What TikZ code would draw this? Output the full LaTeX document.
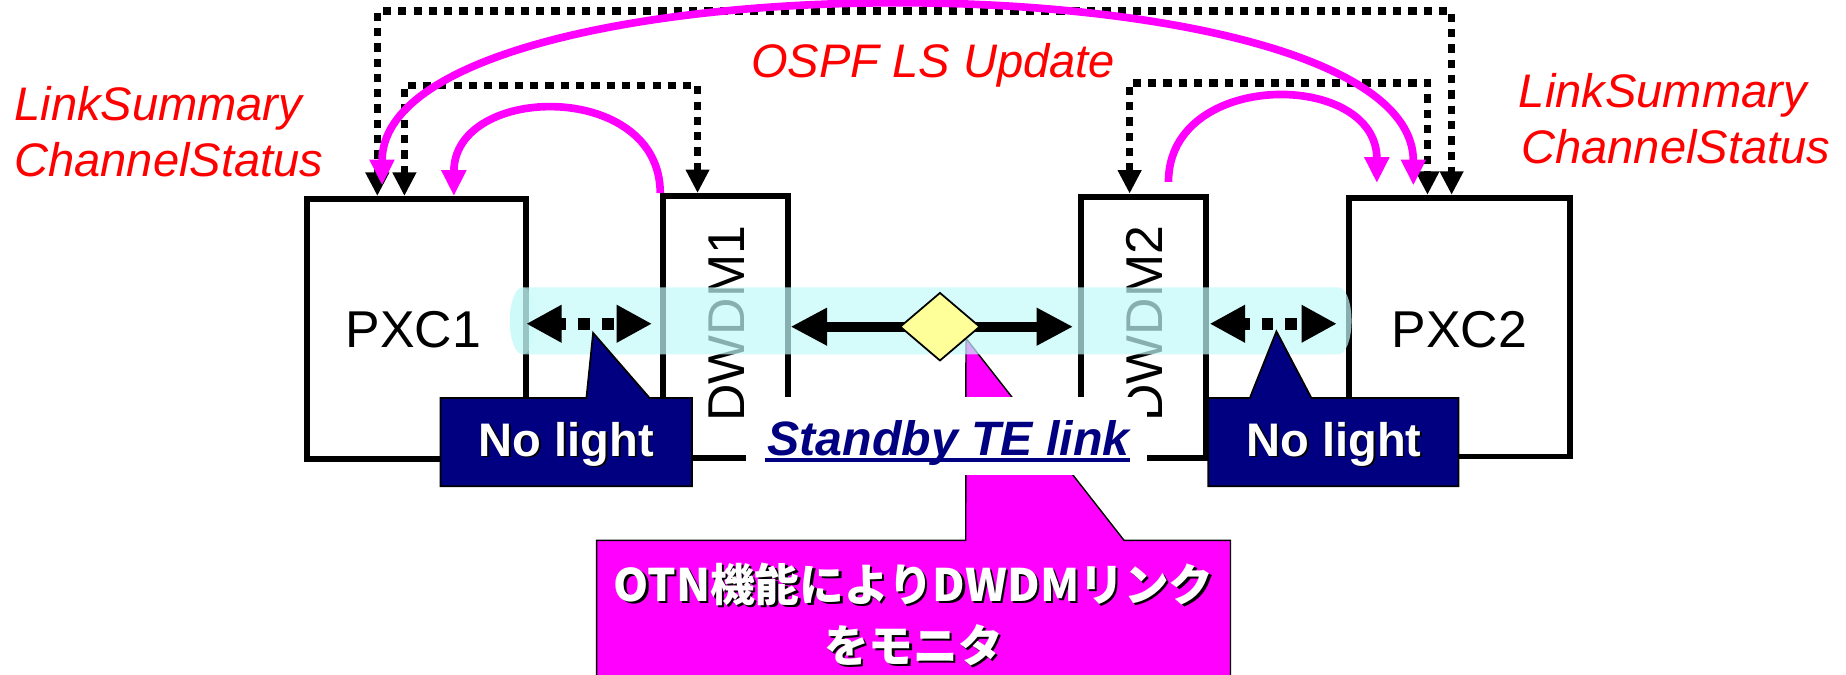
\documentclass[tikz,border=0pt]{standalone}
\usepackage{fontspec}
\setmainfont{Liberation Sans}
\newfontfamily\jpfont{Noto Sans CJK JP}
\usetikzlibrary{arrows.meta,calc,shapes.geometric}

\definecolor{mag}{RGB}{255,0,255}
\definecolor{navyblue}{RGB}{0,0,128}
\definecolor{lsred}{RGB}{255,0,0}
\definecolor{diafill}{RGB}{255,255,153}
\definecolor{tubecol}{RGB}{195,250,250}

\begin{document}
\begin{tikzpicture}[x=1pt,y=1pt,
  box/.style={draw=black, line width=5pt, fill=white, inner sep=0pt},
  boxlabel/.style={font=\fontsize{44}{52}\selectfont, inner sep=0pt},
  ctrl/.style={draw=black, line width=6.5pt, dash pattern=on 7pt off 6pt,
    >={Triangle[length=20pt,width=19pt]}, <->},
  flow/.style={draw=mag, line width=6.5pt, >={Triangle[length=22pt,width=20pt]}},
  dotlink/.style={draw=black, line width=10pt, dash pattern=on 10pt off 10pt, dash phase=4pt,
    >={Triangle[length=30pt,width=30pt]}, <->},
  solidlink/.style={draw=black, line width=8.5pt,
    >={Triangle[length=31pt,width=30pt]}, <->},
  nlfill/.style={fill=navyblue, draw=black, line width=1.5pt},
  nltext/.style={font=\fontsize{40}{48}\selectfont\bfseries, inner sep=0pt, anchor=base},
  jptext/.style={font=\jpfont\bfseries\fontsize{38}{46}\selectfont, inner sep=0pt},
  redlbl/.style={font=\fontsize{40}{48}\selectfont\itshape, text=lsred, inner sep=0pt, anchor=base west},
  stbtext/.style={font=\fontsize{41}{48}\selectfont\bfseries\itshape, text=navyblue, inner sep=0pt, anchor=base}
]
\useasboundingbox (0,0) rectangle (1568,-573);

% equipment boxes
\node[box, minimum width=185.5pt, minimum height=220.5pt] (pxc1) at (353.75,-279.25) {};
\node[box, minimum width=105.7pt, minimum height=222.5pt] (dwdm1) at (616.15,-277.75) {};
\node[box, minimum width=106pt, minimum height=222pt] (dwdm2) at (971,-278) {};
\node[box, minimum width=187.3pt, minimum height=219.7pt] (pxc2) at (1239.65,-277.85) {};

\node[boxlabel] (pxc1t) at (351,-280) {PXC1};
\node[boxlabel] (pxc2t) at (1239.7,-280) {PXC2};
\node[boxlabel, rotate=90] (dwdm1t) at (617,-275) {DWDM1};
\node[boxlabel, rotate=90] (dwdm2t) at (972,-275) {DWDM2};

% centre of the DWDM link
\coordinate (mid) at (798.4,-277.5);
\coordinate (otntip) at ($(mid)+(22.1,-9.9)$);

% OTN callout
\node[minimum width=538pt, minimum height=117pt, inner sep=0pt] (otn) at (776,-517.7) {};
\filldraw[fill=mag, draw=black, line width=1.2pt]
  (otn.north west) -- ($(otn.north west)+(313.5,0)$) -- (otntip)
  -- ($(otn.north west)+(448,0)$) -- (otn.north east) -- (otn.south east)
  -- (otn.south west) -- cycle;
\node[jptext, text=black] (otn1s) at (778,-498) {OTN機能によりDWDMリンク};
\node[jptext, text=white] (otn1) at (776,-496) {OTN機能によりDWDMリンク};
\node[jptext, text=black] (otn2s) at (778,-550) {をモニタ};
\node[jptext, text=white] (otn2) at (776,-548) {をモニタ};

% standby label on a white ground
\node[fill=white, minimum width=340pt, minimum height=66.5pt, inner sep=0pt] (stbg) at (804,-370.25) {};
\node[stbtext] (stb) at (805.8,-386.5) {Standby TE link};
\draw[navyblue, line width=3pt] ($(stb.base west)+(-2,-4.2)$) -- ($(stb.base east)+(0,-4.2)$);

% translucent tube along the link
\fill[tubecol, fill opacity=0.7]
  (444,-244) arc[start angle=90, end angle=270, x radius=11, y radius=28.5]
  -- (1137,-301) arc[start angle=-90, end angle=90, x radius=11, y radius=28.5] -- cycle;
\fill[tubecol, fill opacity=0.3] (444,-272.5) ellipse[x radius=11, y radius=28.5];

% link arrows
\coordinate (lnk) at (0,-275);
\draw[dotlink] ($(pxc1.east |- lnk)+(-2,0)$) -- ($(dwdm1.west |- lnk)+(-7,0)$);
\draw[dotlink] ($(dwdm2.east |- lnk)+(1,0)$) -- ($(pxc2.west |- lnk)+(-8,0)$);
\draw[solidlink] (dwdm1.east |- mid) -- ($(dwdm2.west |- mid)+(-4,0)$);
\node[diamond, draw=black, line width=1.5pt, fill=diafill, inner sep=0pt,
  minimum width=68pt, minimum height=58pt] (dia) at (mid) {};

% no-light callouts
\node[inner sep=0pt, minimum width=213.2pt, minimum height=74.5pt] (nl1) at (480.9,-375.55) {};
\coordinate (nl1tip) at ($(nl1.north west)+(129.7,55.3)$);
\filldraw[nlfill] (nl1.north west) -- ($(nl1.north west)+(124,0)$) -- (nl1tip)
  -- ($(nl1.north west)+(177.7,0)$) -- (nl1.north east) -- (nl1.south east)
  -- (nl1.south west) -- cycle;
\node[nltext, text=black] (nl1s) at (482.5,-389) {No light};
\node[nltext, text=white] (nl1t) at (481,-387.5) {No light};

\node[inner sep=0pt, minimum width=212.3pt, minimum height=74.5pt] (nl2) at (1132.55,-375.55) {};
\coordinate (nl2tip) at ($(nl2.north west)+(58,56.6)$);
\filldraw[nlfill] (nl2.north west) -- ($(nl2.north west)+(35.4,0)$) -- (nl2tip)
  -- ($(nl2.north west)+(87.7,0)$) -- (nl2.north east) -- (nl2.south east)
  -- (nl2.south west) -- cycle;
\node[nltext, text=black] (nl2s) at (1134.5,-389) {No light};
\node[nltext, text=white] (nl2t) at (1133,-387.5) {No light};

% control-plane paths
\draw[ctrl] ($(pxc1.north west)+(62,0)$) -- ++(0,157) -| ($(pxc2.north west)+(89.5,0)$);
\draw[ctrl] ($(pxc1.north west)+(85,0)$) -- ++(0,94) -| ($(dwdm1.north west)+(31.7,0)$);
\draw[ctrl] ($(dwdm2.north west)+(44,0)$) -- ++(0,94) -| ($(pxc2.north west)+(69,0)$);

% status flows
\draw[flow, ->] (dwdm1.north west) .. controls +(0,96) and +(0,96) .. ($(pxc1.north west)+(127,0)$);
\draw[flow, ->] ($(dwdm2.north west)+(77,10)$) .. controls +(0,96) and +(0,96) .. ($(pxc2.north west)+(26,10)$);
\draw[flow, <->] ($(pxc1.north west)+(66,9)$) .. controls +(0,200) and +(0,200) .. ($(pxc2.north west)+(57,8)$);

% message labels
\node[redlbl] (ls1) at (12,-102) {LinkSummary};
\node[redlbl] (cs1) at (12,-150) {ChannelStatus};
\node[redlbl] (ls2) at (1290,-91) {LinkSummary};
\node[redlbl] (cs2) at (1292,-139) {ChannelStatus};
\node[redlbl] (ospf) at (638,-66) {OSPF LS Update};
\end{tikzpicture}
\end{document}
